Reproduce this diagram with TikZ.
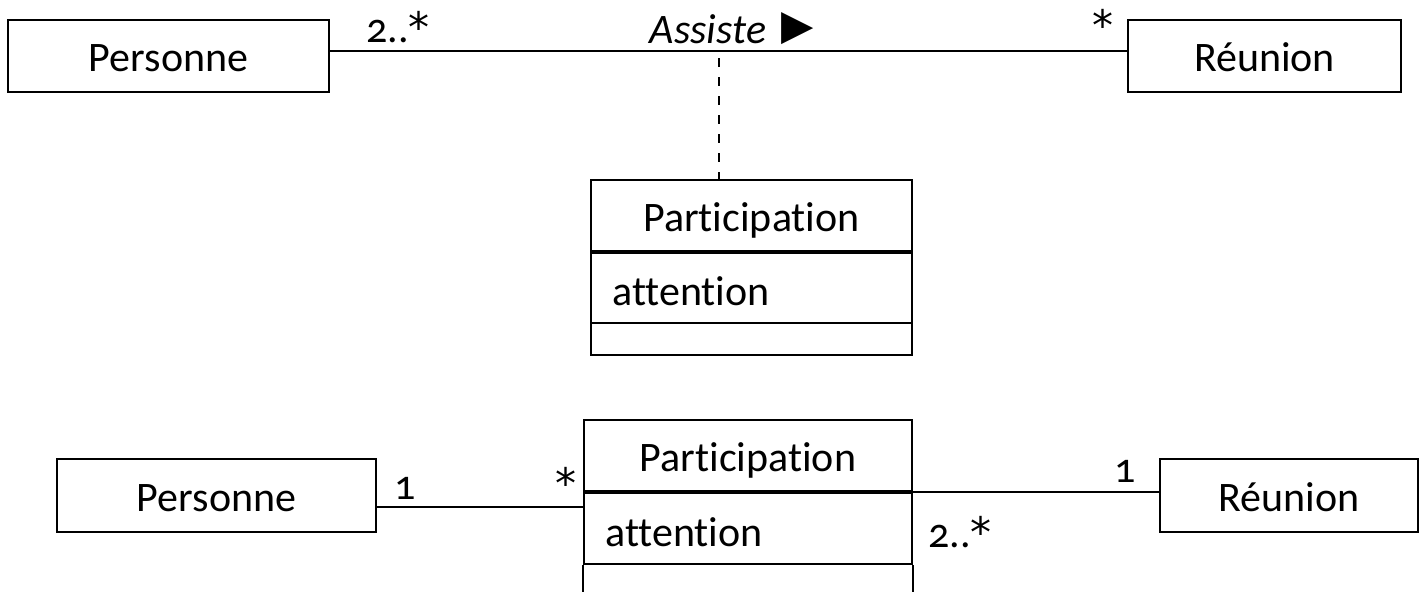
\documentclass[tikz,border=0pt]{standalone}
\usepackage{fontspec}
\setmainfont{Carlito}[Numbers=OldStyle,Ligatures=NoCommon]
\newfontfamily\symfont{DejaVu Sans}
\newcommand{\manystar}{{\symfont *}}
\begin{document}
\begin{tikzpicture}[x=0.5pt,y=-0.5pt,
  every node/.style={font=\fontsize{21}{25}\selectfont},
  classbox/.style={draw,line width=1pt,inner sep=0pt,text height=15.5pt,text depth=0pt},
  mult/.style={inner sep=0pt},
  assoc/.style={line width=1pt},
  sep/.style={line width=1.6pt}]
\useasboundingbox (0,0) rectangle (1420,591);

% ---- association class form ----
\node[classbox,minimum width=160.5pt,minimum height=36pt] (pers1) at (168.5,56) {Personne};
\node[classbox,minimum width=136.5pt,minimum height=36pt] (reun1) at (1264.5,56) {Réunion};
\node[classbox,minimum width=160.5pt,minimum height=35.5pt] (part1) at (751.5,215.5) {Participation};
\node[classbox,minimum width=160.5pt,minimum height=36pt] (attr1) at (751.5,287) {};
\node[anchor=west,inner sep=0pt] (attrtxt1) at (612,291) {attention};
\node[classbox,minimum width=160.5pt,minimum height=16pt] (ops1) at (751.5,339) {};
\draw[sep] (part1.south west) -- (part1.south east);

\draw[assoc] ([yshift=2.5pt]pers1.east) coordinate (a1) -- (a1 -| reun1.west);
\coordinate (mid1) at (719,58);
\draw[line width=1pt,dash pattern=on 4.5pt off 5pt] (mid1) -- (mid1 |- part1.north);

\node[mult] (m1) at (398,27) {2..\manystar};
\node[mult] (m2) at (1103,25) {\manystar};
\node[mult] (asslbl) at (708,29) {\itshape Assiste};
\node[mult] (dirlbl) at (798,29) {\symfont ▶};

% ---- reified class form ----
\node[classbox,minimum width=159.5pt,minimum height=36.5pt] (pers2) at (216.5,495.5) {Personne};
\node[classbox,minimum width=129pt,minimum height=36.5pt] (reun2) at (1289,495.5) {Réunion};
\node[classbox,minimum width=164pt,minimum height=35.5pt] (part2) at (748,455.5) {Participation};
\node[classbox,minimum width=164pt,minimum height=36.5pt] (attr2) at (748,527.5) {};
\node[anchor=west,inner sep=0pt] (attrtxt2) at (605,532) {attention};
\draw[sep] (part2.south west) -- (part2.south east);
\draw[line width=1pt] (attr2.south west) -- ++(0,30);
\draw[line width=1pt] (attr2.south east) -- ++(0,30);

\draw[assoc] ([yshift=-5.75pt]pers2.east) coordinate (b1) -- (b1 -| attr2.west);
\draw[assoc] (part2.south east) -- (part2.south east -| reun2.west);

\node[mult] (m3) at (405,488) {1};
\node[mult] (m4) at (566,483) {\manystar};
\node[mult] (m5) at (1125,471) {1};
\node[mult] (m6) at (960,532) {2..\manystar};
\end{tikzpicture}
\end{document}
